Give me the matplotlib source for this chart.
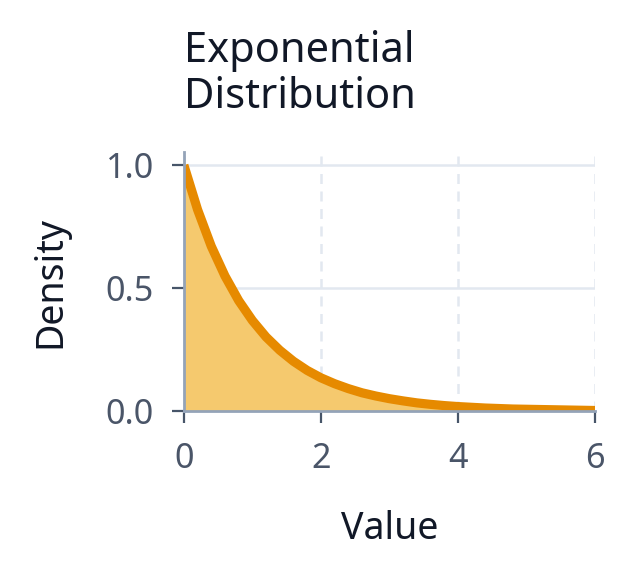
import numpy as np
import matplotlib
matplotlib.use("Agg")
import matplotlib.pyplot as plt

# density curve
value = [0.0, 0.2, 0.4, 0.6, 0.8, 1.0, 1.2, 1.4, 1.6, 1.8, 2.0, 2.2, 2.4, 2.6, 2.8, 3.0,
         3.2, 3.4, 3.6, 3.8, 4.0, 4.2, 4.4, 4.6, 4.8, 5.0, 5.2, 5.4, 5.6, 5.8, 6.0]
density = [1.0, 0.819, 0.670, 0.549, 0.449, 0.368, 0.301, 0.247, 0.202, 0.165, 0.135,
           0.111, 0.091, 0.074, 0.061, 0.050, 0.041, 0.033, 0.027, 0.022, 0.018, 0.015,
           0.012, 0.010, 0.008, 0.007, 0.006, 0.005, 0.004, 0.003, 0.002]
x_ticks = [0, 2, 4, 6]
y_ticks = [0.0, 0.5, 1.0]

plt.rcParams['font.family'] = ['Noto Sans', 'DejaVu Sans']

fig = plt.figure(figsize=(3.17, 2.87), dpi=200)
ax = fig.add_axes([0.290, 0.284, 0.6485, 0.451])

ax.fill_between(value, density, 0, color='#f5c96e', lw=0, zorder=2)
ax.plot(value, density, color='#e68a00', lw=3.3, solid_capstyle='butt', zorder=3)

ax.set_xlim(0, 6)
ax.set_ylim(0, 1.053)
ax.set_xticks(x_ticks)
ax.set_yticks(y_ticks)
ax.set_yticklabels(['%.1f' % t for t in y_ticks])

for t in x_ticks:
    ax.axvline(t, color='#e2e8f0', lw=0.9, ls=(0, (4, 3)), zorder=1)
for t in y_ticks:
    ax.axhline(t, color='#e2e8f0', lw=0.9, zorder=1)

for s in ['top', 'right']:
    ax.spines[s].set_visible(False)
for s in ['left', 'bottom']:
    ax.spines[s].set_color('#94a3b8')
    ax.spines[s].set_linewidth(1.0)
    ax.spines[s].set_zorder(4)

ax.tick_params(colors='#475569', labelcolor='#4a5568', labelsize=12.3,
               length=4.3, width=0.8)
ax.tick_params(axis='x', pad=7)
ax.tick_params(axis='y', pad=6.5)

ax.set_xlabel('Value', fontsize=13.5, color='#111827', labelpad=12)
ax.set_ylabel('Density', fontsize=13.5, color='#111827', labelpad=13)
ax.set_title('Exponential\nDistribution', loc='left', fontsize=15,
             color='#111827', pad=16, linespacing=1.12)

fig.savefig('out.png', dpi=200, facecolor='white')
